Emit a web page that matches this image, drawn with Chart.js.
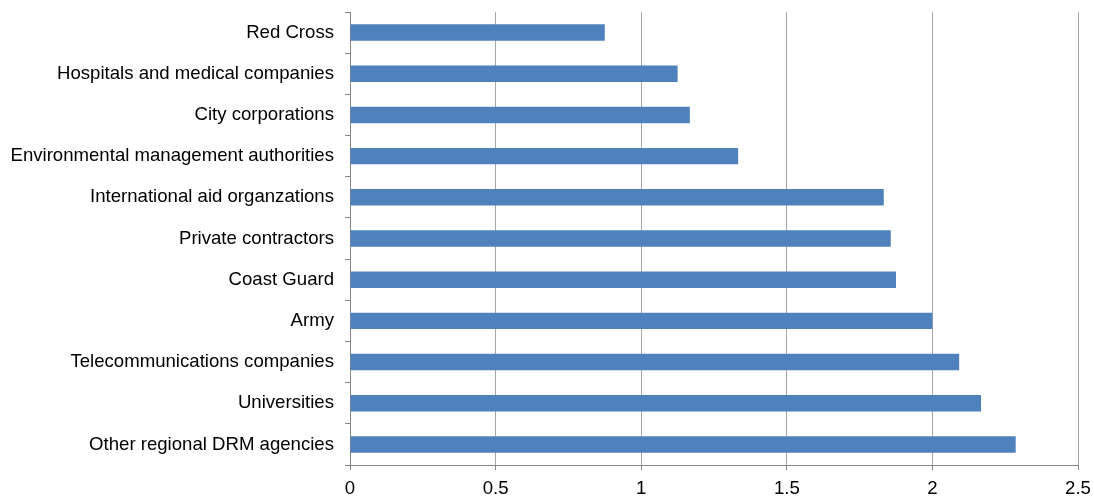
<!DOCTYPE html>
<html>
<head>
<meta charset="utf-8">
<script src="https://cdn.jsdelivr.net/npm/chart.js@4"></script>
<style>
  html, body { margin: 0; padding: 0; background: #fff; }
  #wrap { width: 1094px; height: 498px; }
</style>
</head>
<body>
<div id="wrap"><canvas id="chart"></canvas></div>
<script>
// Categories, top to bottom
const categories = [
    "Red Cross",
    "Hospitals and medical companies",
    "City corporations",
    "Environmental management authorities",
    "International aid organzations",
    "Private contractors",
    "Coast Guard",
    "Army",
    "Telecommunications companies",
    "Universities",
    "Other regional DRM agencies"
];

// Mean score per organisation
const scores = [0.875, 1.125, 1.167, 1.333, 1.833, 1.857, 1.875, 2.0, 2.092, 2.167, 2.286];

// Value axis ticks
const tickValues = [0, 0.5, 1, 1.5, 2, 2.5];

const axisColor = '#868686';
const gridColor = '#a6a6a6';
const labelFont = { family: "'Liberation Sans', Arial, sans-serif", size: 18.6 };

const ctx = document.getElementById('chart').getContext('2d');
new Chart(ctx, {
    type: 'bar',
    data: {
        labels: categories,
        datasets: [{
            data: scores,
            backgroundColor: '#4f81bd',
            borderWidth: 0,
            barPercentage: 0.4,
            categoryPercentage: 1.0
        }]
    },
    options: {
        indexAxis: 'y',
        responsive: true,
        maintainAspectRatio: false,
        animation: false,
        layout: { padding: { top: 12, right: 16, bottom: 0, left: 0 } },
        plugins: {
            legend: { display: false },
            tooltip: { enabled: false }
        },
        scales: {
            x: {
                min: tickValues[0],
                max: tickValues[tickValues.length - 1],
                afterBuildTicks: (scale) => {
                    scale.ticks = tickValues.map(v => ({ value: v }));
                },
                afterFit: (scale) => {
                    scale.height = 33;
                    scale.paddingLeft = 0;
                    scale.paddingRight = 0;
                },
                grid: {
                    color: gridColor,
                    tickColor: axisColor,
                    tickLength: 5,
                    lineWidth: 1
                },
                border: { color: axisColor },
                ticks: {
                    color: '#000',
                    font: labelFont,
                    padding: 8,
                    maxRotation: 0,
                    callback: (v) => String(v)
                }
            },
            y: {
                afterFit: (scale) => {
                    scale.width = 350;
                    scale.paddingTop = 0;
                    scale.paddingBottom = 0;
                },
                grid: {
                    drawOnChartArea: false,
                    offset: true,
                    tickColor: axisColor,
                    tickLength: 5
                },
                border: { color: axisColor },
                ticks: {
                    color: '#000',
                    font: labelFont,
                    padding: 11
                }
            }
        }
    }
});
</script>
</body>
</html>
